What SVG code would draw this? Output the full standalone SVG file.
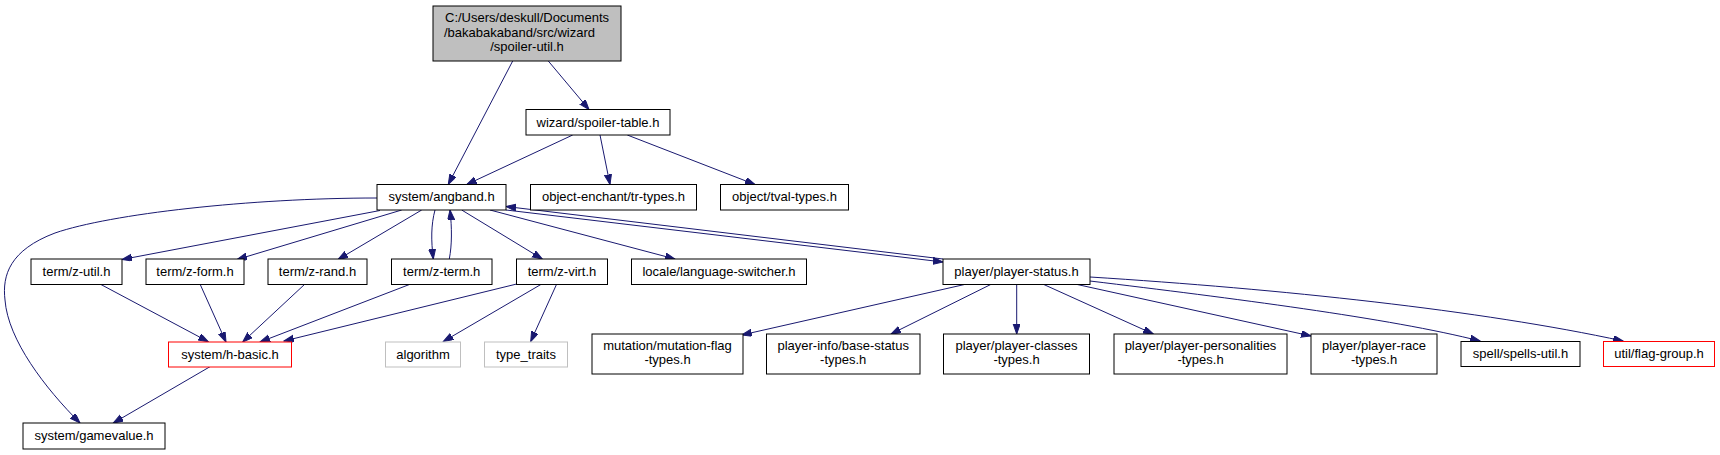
<svg xmlns="http://www.w3.org/2000/svg" width="1720" height="455" viewBox="0 0 1720 455">
<style>
.n rect{fill:#fff;stroke:#000;stroke-width:1}
.n.root rect{fill:#bfbfbf}
.n.red rect{stroke:#ff0000}
.n.grey rect{stroke:#bfbfbf}
text{font-family:"Liberation Sans",Arial,sans-serif;font-size:13px;fill:#000;text-anchor:middle}
.e path{fill:none;stroke:#191970;stroke-width:1;marker-end:url(#ah)}
</style>
<defs>
<marker id="ah" markerWidth="11" markerHeight="8" refX="10" refY="3.5" orient="auto" markerUnits="userSpaceOnUse">
<path d="M0,0 L10,3.5 L0,7 z" fill="#191970" stroke="#191970" stroke-width="1"/>
</marker>
</defs>
<rect width="1720" height="455" fill="#fff"/>
<g id="edges" class="e">
<path d="M512.7,61 L448.3,184.3"/>
<path d="M548.3,61 L589,109.5"/>
<path d="M572.7,135 L466.7,184.5"/>
<path d="M600,135 L610,184.5"/>
<path d="M627.3,135 L755,184.5"/>
<path d="M377,198 C250,198 110,214 55,233 C10,250 2,275 5,300 C8,340 45,388 80,423"/>
<path d="M380,210.5 L122,259.5"/>
<path d="M401.7,210 L237,259.5"/>
<path d="M421.7,210 L338,259.5"/>
<path d="M435,210 C431,225 431,240 433.3,259"/>
<path d="M449.3,259 C452,245 452,228 450,210"/>
<path d="M461.7,210 L542.3,259"/>
<path d="M490,210 L675,259"/>
<path d="M506,210 L943,262"/>
<path d="M943,259 L506,206.5"/>
<path d="M100,284 L208.3,341.7"/>
<path d="M200,284 L226,342"/>
<path d="M305,284 L242.7,342"/>
<path d="M410.7,284 L260,342"/>
<path d="M516.7,284 L284,341"/>
<path d="M541.7,284 L443.3,341.5"/>
<path d="M556.7,284 L530.7,341.5"/>
<path d="M210,366.7 L113.3,423"/>
<path d="M966.7,284 L741.7,335"/>
<path d="M991.7,284 L891,334"/>
<path d="M1016.7,284 L1016.7,334"/>
<path d="M1042.7,284 L1153.3,334"/>
<path d="M1075,284 L1311,336"/>
<path d="M1090,281 C1230,298 1390,318 1480,341"/>
<path d="M1090,277 C1280,289 1480,310 1623,341"/>
</g>
<g id="root" class="n root"><rect x="433" y="6" width="188" height="55"/>
<text x="527" y="22">C:/Users/deskull/Documents</text>
<text x="444" y="36.5" style="text-anchor:start">/bakabakaband/src/wizard</text>
<text x="527" y="51">/spoiler-util.h</text></g>
<g id="spoiler-table" class="n"><rect x="526" y="109.5" width="144" height="25.5"/><text x="598" y="126.5">wizard/spoiler-table.h</text></g>
<g id="angband" class="n"><rect x="377" y="184.5" width="129" height="25.5"/><text x="441.5" y="201.3">system/angband.h</text></g>
<g id="tr-types" class="n"><rect x="530.5" y="184.5" width="166" height="25.5"/><text x="613.5" y="201.3">object-enchant/tr-types.h</text></g>
<g id="tval-types" class="n"><rect x="720.5" y="184.5" width="128" height="25.5"/><text x="784.5" y="201.3">object/tval-types.h</text></g>
<g id="z-util" class="n"><rect x="31" y="259" width="91" height="25.5"/><text x="76.5" y="276">term/z-util.h</text></g>
<g id="z-form" class="n"><rect x="146" y="259" width="98" height="25.5"/><text x="195" y="276">term/z-form.h</text></g>
<g id="z-rand" class="n"><rect x="268" y="259" width="99" height="25.5"/><text x="317.5" y="276">term/z-rand.h</text></g>
<g id="z-term" class="n"><rect x="391.5" y="259" width="100.5" height="25.5"/><text x="441.7" y="276">term/z-term.h</text></g>
<g id="z-virt" class="n"><rect x="516.5" y="259" width="91" height="25.5"/><text x="562" y="276">term/z-virt.h</text></g>
<g id="language-switcher" class="n"><rect x="631.5" y="259" width="175" height="25.5"/><text x="719" y="276">locale/language-switcher.h</text></g>
<g id="player-status" class="n"><rect x="943" y="259" width="147" height="25.5"/><text x="1016.5" y="276">player/player-status.h</text></g>
<g id="h-basic" class="n red"><rect x="168.5" y="342" width="123" height="25"/><text x="230" y="358.8">system/h-basic.h</text></g>
<g id="algorithm" class="n grey"><rect x="385.5" y="342" width="75" height="25"/><text x="423" y="358.8">algorithm</text></g>
<g id="type_traits" class="n grey"><rect x="484.5" y="342" width="83" height="25"/><text x="526" y="358.8">type_traits</text></g>
<g id="mutation-flag-types" class="n"><rect x="592" y="334" width="151" height="40"/><text x="667.5" y="349.5">mutation/mutation-flag</text><text x="667.5" y="364">-types.h</text></g>
<g id="base-status-types" class="n"><rect x="766.5" y="334" width="153.5" height="40"/><text x="843.2" y="349.5">player-info/base-status</text><text x="843.2" y="364">-types.h</text></g>
<g id="player-classes-types" class="n"><rect x="943.5" y="334" width="146" height="40"/><text x="1016.5" y="349.5">player/player-classes</text><text x="1016.5" y="364">-types.h</text></g>
<g id="player-personalities-types" class="n"><rect x="1114" y="334" width="173" height="40"/><text x="1200.5" y="349.5">player/player-personalities</text><text x="1200.5" y="364">-types.h</text></g>
<g id="player-race-types" class="n"><rect x="1311" y="334" width="126" height="40"/><text x="1374" y="349.5">player/player-race</text><text x="1374" y="364">-types.h</text></g>
<g id="spells-util" class="n"><rect x="1461" y="341.5" width="119" height="25"/><text x="1520.5" y="358.3">spell/spells-util.h</text></g>
<g id="flag-group" class="n red"><rect x="1603.5" y="341.5" width="111" height="25"/><text x="1659" y="358.3">util/flag-group.h</text></g>
<g id="gamevalue" class="n"><rect x="23" y="423" width="142" height="26"/><text x="94" y="440.3">system/gamevalue.h</text></g>
</svg>
